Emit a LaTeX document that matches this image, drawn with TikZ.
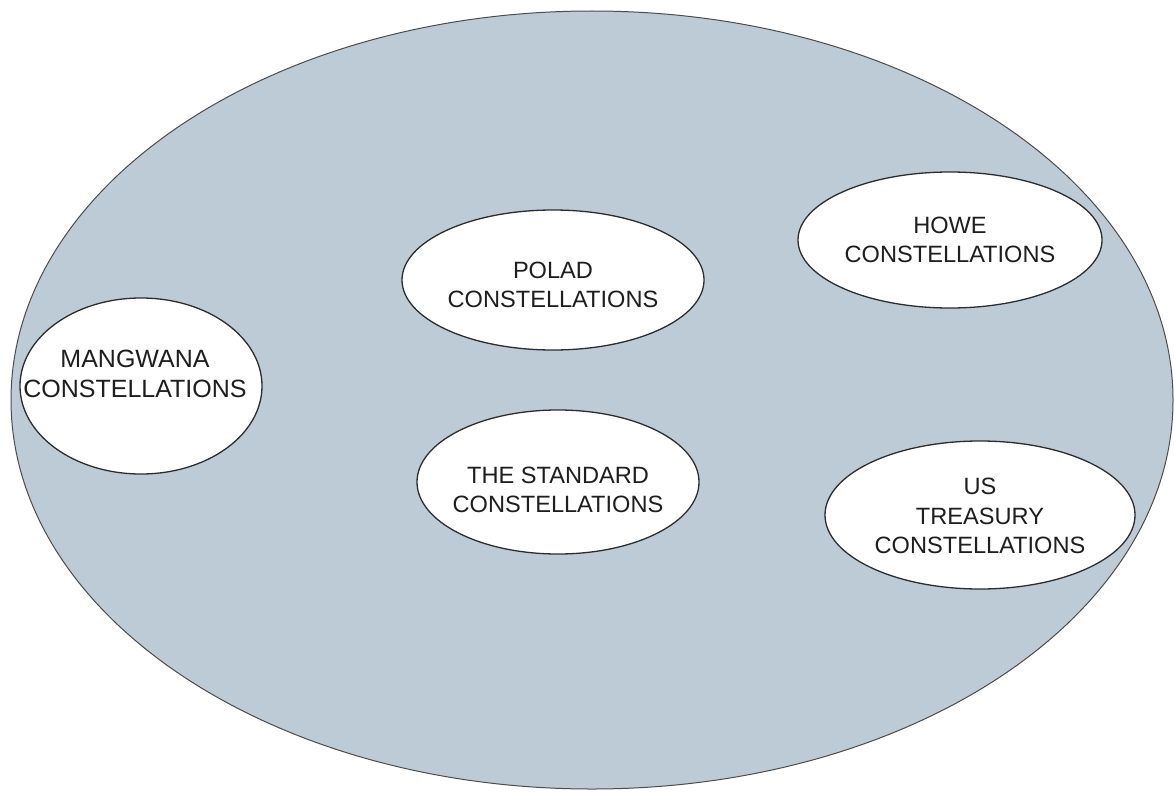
\documentclass[tikz,border=0pt]{standalone}
\usepackage{fontspec}
\setmainfont{Liberation Sans}
\usetikzlibrary{shapes.geometric}
\definecolor{bluegray}{RGB}{189,203,215}
\definecolor{edge}{RGB}{45,45,45}
\definecolor{ink}{RGB}{30,30,30}
\tikzset{
  outer/.style={ellipse, draw=edge!85, line width=1pt, fill=bluegray, inner sep=0pt},
  group/.style={ellipse, draw=edge, line width=1.3pt, fill=white, inner sep=0pt},
  lbl/.style={align=center, text=ink, font=\fontsize{23.6}{29.5}\selectfont, inner sep=0pt}
}
\begin{document}
\begin{tikzpicture}[x=1pt,y=-1pt]
\useasboundingbox (0,0) rectangle (1174,792);
\node[outer, minimum width=1162pt, minimum height=778pt] (world) at (592,400) {};

\node[group, minimum width=242pt, minimum height=176pt] (mang) at (141,386) {};
\node[lbl, font=\fontsize{25}{29.5}\selectfont] (mangT) at (135,374) {MANGWANA\\CONSTELLATIONS};

\node[group, minimum width=302pt, minimum height=140pt] (polad) at (553,280) {};
\node[lbl] (poladT) at (553,285) {POLAD\\CONSTELLATIONS};

\node[group, minimum width=304pt, minimum height=136pt] (howe) at (950,240) {};
\node[lbl] (howeT) at (950,240) {HOWE\\CONSTELLATIONS};

\node[group, minimum width=282pt, minimum height=144pt] (std) at (558,482) {};
\node[lbl] (stdT) at (558,490) {THE STANDARD\\CONSTELLATIONS};

\node[group, minimum width=310pt, minimum height=148pt] (ust) at (980,515) {};
\node[lbl] (ustT) at (980,516) {US\\TREASURY\\CONSTELLATIONS};
\end{tikzpicture}
\end{document}
